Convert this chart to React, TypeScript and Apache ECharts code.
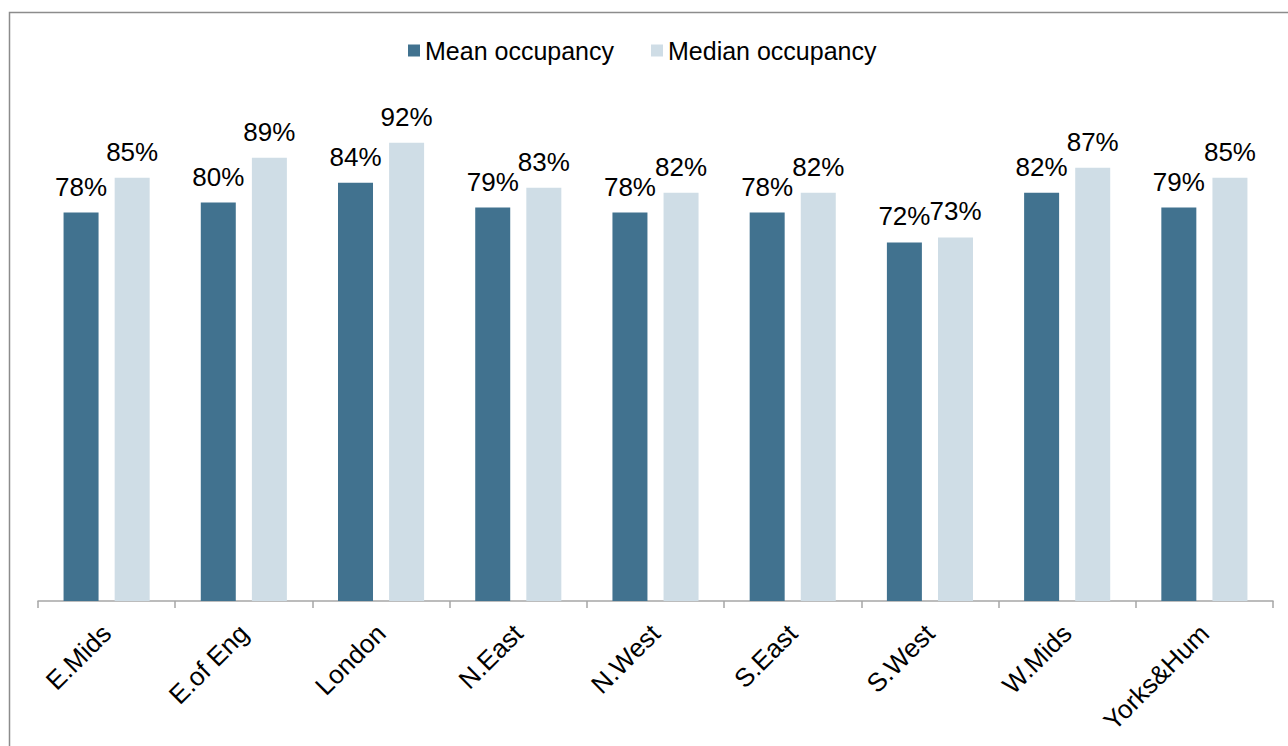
import React, { useEffect, useRef } from "react";
import * as echarts from "echarts";

const categories = ["E.Mids", "E.of Eng", "London", "N.East", "N.West", "S.East", "S.West", "W.Mids", "Yorks&Hum"];
const meanOccupancy = [78, 80, 84, 79, 78, 78, 72, 82, 79];
const medianOccupancy = [85, 89, 92, 83, 82, 82, 73, 87, 85];

const FONT = "'Liberation Sans', Arial, sans-serif";

export default function App() {
  const ref = useRef<HTMLDivElement>(null);
  useEffect(() => {
    document.body.style.margin = "0";
    const chart = echarts.init(ref.current!, null, { renderer: "svg" });
    const label = {
      show: true,
      position: "top",
      distance: 13,
      formatter: "{c}%",
      fontSize: 26,
      color: "#000",
      fontFamily: FONT,
    };
    chart.setOption({
      animation: false,
      backgroundColor: "#fff",
      textStyle: { fontFamily: FONT },
      graphic: [
        {
          type: "rect",
          shape: { x: 9.5, y: 12.5, width: 1400, height: 900 },
          style: { fill: "none", stroke: "#8c8c8c", lineWidth: 1.5 },
          silent: true,
        },
      ],
      legend: {
        top: 33,
        left: 403,
        itemWidth: 12,
        itemHeight: 12,
        itemGap: 37,
        icon: "rect",
        textStyle: { fontSize: 25, color: "#000", fontFamily: FONT, padding: [0, 0, 0, 0] },
        data: ["Mean occupancy", "Median occupancy"],
      },
      grid: { left: 38, right: 15, top: 103, bottom: 145, containLabel: false },
      xAxis: {
        type: "category",
        data: categories,
        boundaryGap: true,
        axisLine: { lineStyle: { color: "#a6a6a6", width: 1.5 } },
        axisTick: { show: true, length: 7, alignWithLabel: false, lineStyle: { color: "#a6a6a6", width: 1.5 } },
        axisLabel: { rotate: 45, fontSize: 26, color: "#000", margin: 28, fontFamily: FONT, interval: 0 },
      },
      yAxis: {
        type: "value",
        min: 0,
        max: 100,
        show: false,
        splitLine: { show: false },
      },
      series: [
        {
          name: "Mean occupancy",
          type: "bar",
          data: meanOccupancy,
          barWidth: 35,
          barGap: "46%",
          itemStyle: { color: "#41728f" },
          label,
        },
        {
          name: "Median occupancy",
          type: "bar",
          data: medianOccupancy,
          barWidth: 35,
          itemStyle: { color: "#cfdde6" },
          label,
        },
      ],
    });
    return () => chart.dispose();
  }, []);
  return <div ref={ref} style={{ width: 1288, height: 746 }} />;
}
